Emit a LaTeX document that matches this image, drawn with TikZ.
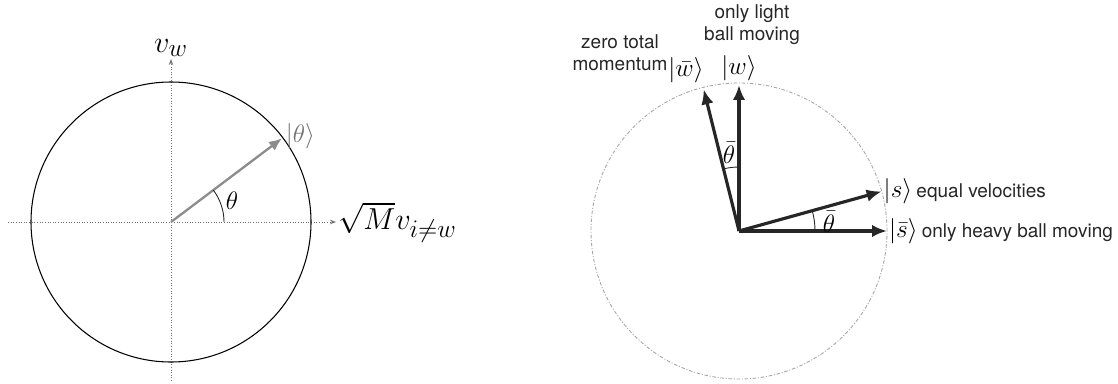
\documentclass[tikz,border=0pt]{standalone}
\usepackage{fontspec}
\setsansfont{TeX Gyre Heros}
\usetikzlibrary{arrows.meta, positioning}

\begin{document}
\begin{tikzpicture}[x=0.02cm, y=0.02cm,
    axis/.style={densely dotted, black!55, line width=0.5pt, -{Stealth[length=1.2mm, width=0.9mm]}},
    vec/.style={-{Latex[length=3mm, width=2.5mm]}, line width=1.8pt, black!85},
    angarc/.style={line width=0.5pt, black!85},
    big/.style={font=\fontsize{19}{22}\selectfont},
    mid/.style={font=\fontsize{13.5}{16}\selectfont, inner sep=1pt},
    words/.style={font=\sffamily\fontsize{10.8}{12.6}\selectfont, text=black!85, align=center, inner sep=1pt}]
  \useasboundingbox (0,0) rectangle (1118,383);

  % left: circle of velocities
  \coordinate (o) at (171,161);
  \coordinate (xa) at (8,161);
  \coordinate (xb) at (336,161);
  \coordinate (ya) at (171,2);
  \coordinate (yb) at (171,324);
  \draw[axis] (xa) -- (xb);
  \draw[axis] (ya) -- (yb);
  \draw[line width=0.6pt] (o) circle[radius=140];
  \path (o) ++(37:139) coordinate (th);
  \draw[-{Latex[length=2.6mm, width=2.2mm]}, line width=1.3pt, black!45] (o) -- (th);
  \draw[angarc] (o) ++(53,0) arc[start angle=0, end angle=37, radius=53];
  \node[big, inner sep=1pt] (vw) [above=0pt of yb] {$v_w$};
  \node[big, inner sep=1pt] (vx) [right=0pt of xb] {$\sqrt{M}v_{i\neq w}$};
  \node[mid, text=black!55] (thlab) [above right=-7pt and 1pt of th] {$|\theta\rangle$};
  \node[mid] (ang) at (232,182) {$\theta$};

  % right: the four states
  \coordinate (c) at (739,152);
  \draw[black!35, line width=0.5pt, dash pattern=on 2pt off 1pt on 0.6pt off 1pt] (c) circle[radius=148];
  \path (c) ++(90:146) coordinate (w)
        (c) ++(104:146) coordinate (wb)
        (c) ++(15.5:148) coordinate (s)
        (c) ++(0:148) coordinate (sb);
  \path[vec]
    (c) edge (w)
        edge (wb)
        edge (s)
        edge (sb);
  \draw[angarc] (c) ++(90:64) arc[start angle=90, end angle=104, radius=64];
  \draw[angarc] (c) ++(0:76) arc[start angle=0, end angle=15.5, radius=76];
  \node[mid] (t1) at (729,230) {$\bar\theta$};
  \node[mid] (t2) at (829,161) {$\bar\theta$};

  \node[mid] (wlab) [above=1pt of w] {$|w\rangle$};
  \node[mid] (wblab) at (686,313) {$|\bar w\rangle$};
  \node[mid] (slab) [right=0pt of s] {$|s\rangle$};
  \node[mid] (sblab) [right=0pt of sb] {$|\bar s\rangle$};
  \node[words] (zero) at (620,330) {zero total\\momentum};
  \node[words] (light) at (752,358) {only light\\ball moving};
  \node[words, anchor=base west] (eq) at (slab.base east) {equal velocities};
  \node[words, anchor=base west] (heavy) at (sblab.base east) {only heavy ball moving};
\end{tikzpicture}
\end{document}
